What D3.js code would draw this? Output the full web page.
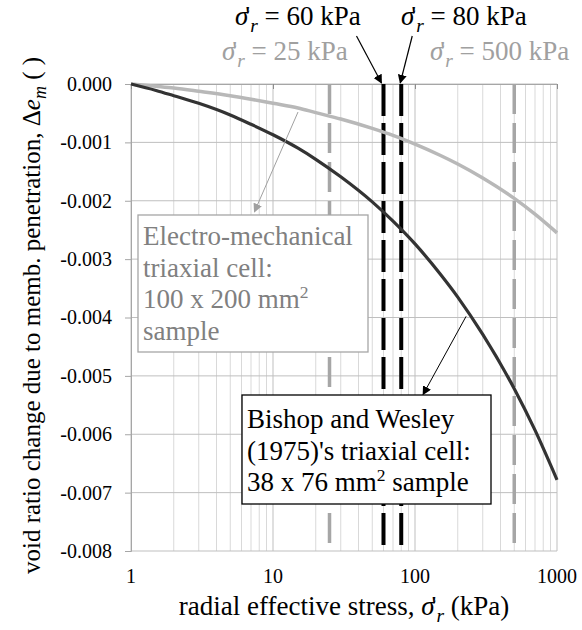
<!DOCTYPE html>
<html>
<head>
<meta charset="utf-8">
<script src="https://cdn.jsdelivr.net/npm/d3@7/dist/d3.min.js"></script>
<style>
  body { margin: 0; background: #fff; }
  svg, svg text { font-family: "Liberation Serif", "Times New Roman", Times, serif !important; }
</style>
</head>
<body>
<div id="wrapper"></div>
<script>
// radial effective stress (kPa)
const stress = [1, 1.5, 2, 3, 5, 7, 10, 15, 20, 30, 50, 70, 100, 150, 200, 300, 500, 700, 1000];
// Bishop and Wesley (1975) cell, 38 x 76 mm2
const bishopWesley = [0, -0.00011, -0.00020, -0.00033, -0.00053, -0.00069, -0.00087, -0.00110, -0.00129, -0.00159,
  -0.00202, -0.00235, -0.00274, -0.00325, -0.00365, -0.00429, -0.00522, -0.00593, -0.00678];
// electro-mechanical cell, 100 x 200 mm2
const electroMech = [0, -0.00004, -0.00007, -0.000125, -0.0002, -0.00026, -0.00033, -0.00041, -0.00049, -0.0006,
  -0.00076, -0.00088, -0.00103, -0.00122, -0.00137, -0.00161, -0.00196, -0.00223, -0.00255];

const refGray = [25, 500];
const refBlack = [60, 80];

const xTicks = [1, 10, 100, 1000];
const yTicks = [0, -0.001, -0.002, -0.003, -0.004, -0.005, -0.006, -0.007, -0.008];

const serif = '"Liberation Serif", "Times New Roman", Times, serif';

let dimensions = {
  width: 582,
  height: 630,
  margin: { top: 84, left: 131, bottom: 79, right: 25 }
};
dimensions.boundedWidth = dimensions.width - dimensions.margin.left - dimensions.margin.right;
dimensions.boundedHeight = dimensions.height - dimensions.margin.top - dimensions.margin.bottom;

const wrapper = d3.select("#wrapper").append("svg")
  .attr("width", dimensions.width)
  .attr("height", dimensions.height)
  .style("font-family", serif);

const defs = wrapper.append("defs");
function arrowHead(id, color) {
  defs.append("marker")
    .attr("id", id)
    .attr("viewBox", "0 0 10 10")
    .attr("refX", 9).attr("refY", 5)
    .attr("markerWidth", 9).attr("markerHeight", 9)
    .attr("markerUnits", "userSpaceOnUse")
    .attr("orient", "auto")
    .append("path")
    .attr("d", "M0,0 L10,5 L0,10 z")
    .attr("fill", color);
}
arrowHead("arrowBlack", "#000");
arrowHead("arrowGray", "#a0a0a0");

const container = wrapper.append("g")
  .attr("transform", `translate(${dimensions.margin.left}, ${dimensions.margin.top})`);

const xScale = d3.scaleLog()
  .domain([1, 1000])
  .range([0, dimensions.boundedWidth]);
const yScale = d3.scaleLinear()
  .domain([0, -0.008])
  .range([0, dimensions.boundedHeight]);

// gridlines
const minorX = d3.range(0, 3).flatMap(p => d3.range(2, 10).map(k => k * Math.pow(10, p)));
container.append("g").selectAll("line")
  .data(minorX)
  .enter().append("line")
  .attr("x1", d => xScale(d)).attr("x2", d => xScale(d))
  .attr("y1", 0).attr("y2", dimensions.boundedHeight)
  .attr("stroke", "#d9d9d9").attr("stroke-width", 1);

container.append("g").selectAll("line")
  .data(xTicks)
  .enter().append("line")
  .attr("x1", d => xScale(d)).attr("x2", d => xScale(d))
  .attr("y1", 0).attr("y2", dimensions.boundedHeight)
  .attr("stroke", "#bfbfbf").attr("stroke-width", 1);

container.append("g").selectAll("line")
  .data(yTicks)
  .enter().append("line")
  .attr("x1", 0).attr("x2", dimensions.boundedWidth)
  .attr("y1", d => yScale(d)).attr("y2", d => yScale(d))
  .attr("stroke", "#bfbfbf").attr("stroke-width", 1);

// y axis
const yAxisGen = d3.axisLeft(yScale)
  .tickValues(yTicks)
  .tickSize(6)
  .tickPadding(13);
const yAxis = container.append("g").call(yAxisGen);
yAxis.attr("font-family", serif);
yAxis.select(".domain").attr("stroke", "#a6a6a6");
yAxis.selectAll(".tick line").attr("stroke", "#a6a6a6");
yAxis.selectAll(".tick text")
  .attr("font-size", 20)
  .attr("fill", "#000")
  .text(d => d === 0 ? "0.000" : "-" + d3.format(".3f")(-d));

// x axis: line at top (y = 0), labels at bottom
const xAxisTop = container.append("g").call(d3.axisTop(xScale).tickValues(xTicks).tickSize(-5).tickFormat(""));
xAxisTop.select(".domain").attr("stroke", "#a6a6a6");
xAxisTop.selectAll(".tick line").attr("stroke", "#8c8c8c");

container.append("g")
  .selectAll("text")
  .data(xTicks)
  .enter().append("text")
  .attr("x", d => xScale(d))
  .attr("y", dimensions.boundedHeight + 32)
  .attr("text-anchor", "middle")
  .style("font-size", "20px")
  .text(d => d);

// reference stress lines
container.append("g").selectAll("line")
  .data(refGray)
  .enter().append("line")
  .attr("x1", d => xScale(d)).attr("x2", d => xScale(d))
  .attr("y1", 0).attr("y2", dimensions.boundedHeight)
  .attr("stroke", "#a6a6a6").attr("stroke-width", 3.5)
  .attr("stroke-dasharray", "30,9");

container.append("g").selectAll("line")
  .data(refBlack)
  .enter().append("line")
  .attr("x1", d => xScale(d)).attr("x2", d => xScale(d))
  .attr("y1", 0).attr("y2", dimensions.boundedHeight)
  .attr("stroke", "#000").attr("stroke-width", 4)
  .attr("stroke-dasharray", "32,7");

// curves
const lineGen = d3.line()
  .x(d => xScale(d[0]))
  .y(d => yScale(d[1]))
  .curve(d3.curveMonotoneX);

container.append("path")
  .datum(d3.zip(stress, electroMech))
  .attr("d", lineGen)
  .attr("fill", "none")
  .attr("stroke", "#b8b8b8")
  .attr("stroke-width", 3.5);

container.append("path")
  .datum(d3.zip(stress, bishopWesley))
  .attr("d", lineGen)
  .attr("fill", "none")
  .attr("stroke", "#333333")
  .attr("stroke-width", 3.2);

// helper: sigma'_r
function sigmaR(sel, before, after) {
  if (before) sel.append("tspan").text(before);
  sel.append("tspan").attr("font-style", "italic").text("σ");
  sel.append("tspan").attr("dx", -3).text("'");
  sel.append("tspan").attr("font-style", "italic").attr("font-size", "0.72em").attr("dy", 7).text("r");
  sel.append("tspan").attr("dy", -7).text(after);
}

// top labels
const topLabels = wrapper.append("g").style("font-size", "27px");
sigmaR(topLabels.append("text").attr("x", 235).attr("y", 25), "", " = 60 kPa");
sigmaR(topLabels.append("text").attr("x", 401).attr("y", 25), "", " = 80 kPa");
sigmaR(topLabels.append("text").attr("x", 222).attr("y", 60).attr("fill", "#a0a0a0"), "", " = 25 kPa");
sigmaR(topLabels.append("text").attr("x", 430).attr("y", 60).attr("fill", "#a0a0a0"), "", " = 500 kPa");

// arrows from top labels
const m = dimensions.margin;
wrapper.append("line")
  .attr("x1", m.left + xScale(60) - 27).attr("y1", 36)
  .attr("x2", m.left + xScale(60) - 2).attr("y2", m.top - 1)
  .attr("stroke", "#000").attr("stroke-width", 1.2)
  .attr("marker-end", "url(#arrowBlack)");
wrapper.append("line")
  .attr("x1", m.left + xScale(80) + 11).attr("y1", 36)
  .attr("x2", m.left + xScale(80) - 1).attr("y2", m.top - 1)
  .attr("stroke", "#000").attr("stroke-width", 1.2)
  .attr("marker-end", "url(#arrowBlack)");

// annotation boxes
function note(x, y, w, h, first, lines, color, border) {
  const g = container.append("g");
  g.append("rect")
    .attr("x", x).attr("y", y).attr("width", w).attr("height", h)
    .attr("fill", "#fff").attr("stroke", border).attr("stroke-width", 1.3);
  lines.forEach((ln, i) => {
    const t = g.append("text")
      .attr("x", x + 5).attr("y", y + first + i * 31.5)
      .attr("fill", color)
      .style("font-size", "27px");
    let shift = 0;
    ln.forEach(part => {
      if (part.sup) {
        t.append("tspan").attr("dy", -10).attr("font-size", "0.65em").text(part.sup);
        shift = 10;
      } else {
        t.append("tspan").attr("dy", shift).text(part.t);
        shift = 0;
      }
    });
  });
}

// gray annotation arrow
container.append("line")
  .attr("x1", xScale(15)).attr("y1", yScale(-0.00048))
  .attr("x2", xScale(7.4)).attr("y2", yScale(-0.00219))
  .attr("stroke", "#a0a0a0").attr("stroke-width", 1)
  .attr("marker-end", "url(#arrowGray)");

// black annotation arrow
container.append("line")
  .attr("x1", xScale(229)).attr("y1", yScale(-0.00398))
  .attr("x2", xScale(114)).attr("y2", yScale(-0.00532))
  .attr("stroke", "#000").attr("stroke-width", 1)
  .attr("marker-end", "url(#arrowBlack)");

note(7, 131, 230, 137, 30, [
  [{ t: "Electro-mechanical" }],
  [{ t: "triaxial cell:" }],
  [{ t: "100 x 200 mm" }, { sup: "2" }],
  [{ t: "sample" }]
], "#808080", "#a6a6a6");

note(111, 311, 249, 109, 33, [
  [{ t: "Bishop and Wesley" }],
  [{ t: "(1975)'s triaxial cell:" }],
  [{ t: "38 x 76 mm" }, { sup: "2" }, { t: " sample" }]
], "#000", "#000");

// x label
const xLabel = container.append("text")
  .attr("x", dimensions.boundedWidth / 2)
  .attr("y", dimensions.boundedHeight + 64)
  .attr("text-anchor", "middle")
  .style("font-size", "27px");
sigmaR(xLabel, "radial effective stress, ", " (kPa)");

// y label
const yLabel = wrapper.append("text")
  .attr("transform", `translate(40, ${m.top + dimensions.boundedHeight / 2 - 2}) rotate(-90)`)
  .attr("text-anchor", "middle")
  .style("font-size", "25px");
yLabel.append("tspan").text("void ratio change due to memb. penetration, Δ");
yLabel.append("tspan").attr("font-style", "italic").text("e");
yLabel.append("tspan").attr("font-style", "italic").attr("font-size", "0.72em").attr("dy", 6).text("m");
yLabel.append("tspan").attr("dy", -6).text(" ( )");
</script>
</body>
</html>
